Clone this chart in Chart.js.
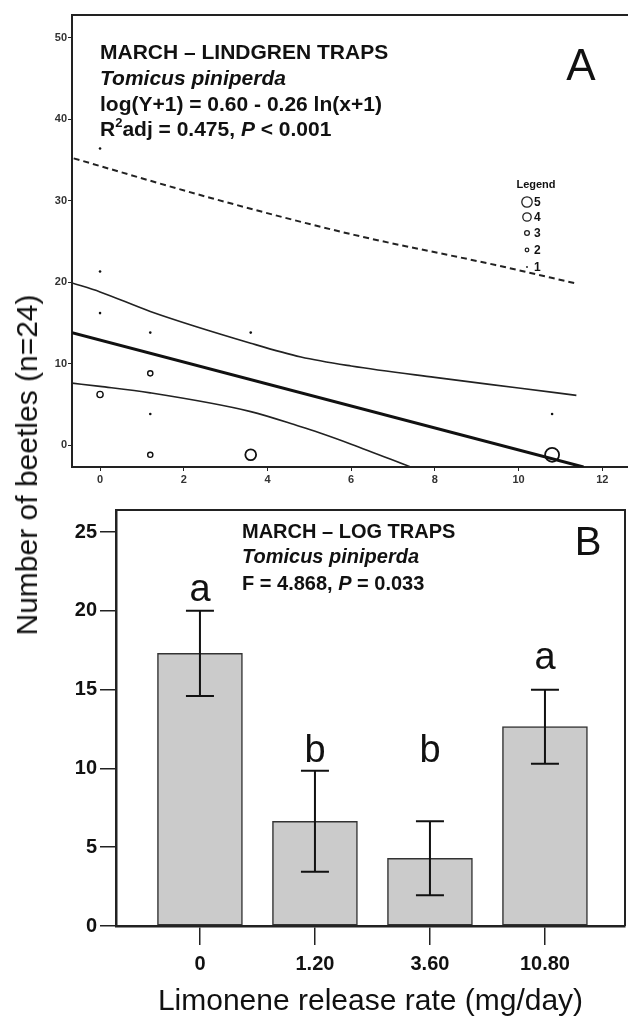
<!DOCTYPE html>
<html>
<head>
<meta charset="utf-8">
<title>Limonene release rate and Tomicus piniperda catches</title>
<script src="https://cdn.jsdelivr.net/npm/chart.js@4.4.1/dist/chart.umd.min.js"></script>
<style>
  html, body { margin: 0; padding: 0; background: #fff; overflow: hidden; }
  #wrapA { position: absolute; left: 0; top: 0; width: 640px; height: 495px; }
  #wrapB { position: absolute; left: 0; top: 495px; width: 628px; height: 522px; }
  #ytitle {
    position: absolute; left: 27px; top: 465px;
    transform: translate(-50%, -50%) rotate(-90deg);
    font: 30px "Liberation Sans", Arial, sans-serif; color: #111; white-space: nowrap;
  }
</style>
</head>
<body>
<div id="wrapA"><canvas id="chartA" width="640" height="495"></canvas></div>
<div id="wrapB"><canvas id="chartB" width="628" height="522"></canvas></div>
<div id="ytitle">Number of beetles (n=24)</div>
<script>
var FONT = '"Liberation Sans", Arial, Helvetica, sans-serif';

// ---- panel A : Lindgren traps (one entry per plotted symbol, count = traps at that point)
var trapRate    = [0, 0, 0, 0, 1.2, 1.2, 1.2, 1.2, 3.6, 3.6, 10.8, 10.8];
var trapBeetles = [36.4, 21.3, 16.2, 6.2, 13.8, 8.8, 3.8, -1.2, 13.8, -1.2, 3.8, -1.2];
var trapCount   = [1, 1, 1, 3, 1, 2, 1, 2, 1, 4, 1, 5];

// fitted line, 95% confidence band and prediction limit
var fitX   = [-0.67, 11.55];
var fitY   = [13.8, -2.7];
var upperX = [-0.67, 0, 1.2, 3.6, 4.8, 6, 8, 10, 11.38];
var upperY = [19.9, 18.8, 16.4, 12.5, 10.8, 9.7, 8.3, 7.0, 6.1];
var lowerX = [-0.67, 0, 1.2, 3.6, 4.76, 5.24, 6, 7.42];
var lowerY = [7.6, 7.2, 6.4, 4.1, 2.3, 1.5, 0.1, -2.7];
var predX  = [-0.63, 2.67, 6.07, 9.45, 11.4];
var predY  = [35.2, 30.3, 25.8, 22.1, 19.8];

var xTicksA = [0, 2, 4, 6, 8, 10, 12];
var yTicksA = [0, 10, 20, 30, 40, 50];
var legendCounts = [5, 4, 3, 2, 1];

// ---- panel B : log traps
var rateLabels  = ['0', '1.20', '3.60', '10.80'];
var meanBeetles = [17.3, 6.65, 4.3, 12.65];
var seBeetles   = [2.7, 3.2, 2.35, 2.35];
var sigLetters  = ['a', 'b', 'b', 'a'];
var yTicksB = [0, 5, 10, 15, 20, 25];

// symbol size for a count (pixels)
var radiusByCount = [0, 1.3, 2.6, 3.1, 5.4, 7];
var legendRadius  = [0, 0.9, 1.8, 2.4, 4.2, 5.2];

function xy(xs, ys) {
  return xs.map(function (x, i) { return { x: x, y: ys[i] }; });
}

function drawRuns(ctx, x, y, runs, size) {
  runs.forEach(function (r) {
    var s = r.sup ? Math.round(size * 0.62) : size;
    ctx.font = (r.i ? 'italic ' : '') + 'bold ' + s + 'px ' + FONT;
    ctx.fillText(r.t, x, r.sup ? y - size * 0.42 : y);
    x += ctx.measureText(r.t).width;
  });
}

var panelTextA = {
  id: 'panelTextA',
  afterDraw: function (chart) {
    var ctx = chart.ctx, a = chart.chartArea;
    ctx.save();
    // top frame line
    ctx.strokeStyle = '#222'; ctx.lineWidth = 2;
    ctx.beginPath(); ctx.moveTo(a.left, a.top); ctx.lineTo(a.right, a.top); ctx.stroke();

    ctx.fillStyle = '#111';
    ctx.textAlign = 'left'; ctx.textBaseline = 'alphabetic';
    drawRuns(ctx, 100, 59, [{ t: 'MARCH \u2013 LINDGREN TRAPS' }], 21);
    drawRuns(ctx, 100, 85, [{ t: 'Tomicus piniperda', i: true }], 21);
    drawRuns(ctx, 100, 111, [{ t: 'log(Y+1) = 0.60 - 0.26 ln(x+1)' }], 21);
    drawRuns(ctx, 100, 136, [{ t: 'R' }, { t: '2', sup: true }, { t: 'adj = 0.475, ' }, { t: 'P', i: true }, { t: ' < 0.001' }], 21);

    ctx.textAlign = 'center';
    ctx.font = '44px ' + FONT;
    ctx.fillText('A', 581, 80);

    // size legend
    ctx.font = 'bold 11px ' + FONT;
    ctx.fillText('Legend', 536, 188);
    var rows = [202, 217, 233, 250, 267];
    legendCounts.forEach(function (c, i) {
      var r = legendRadius[c];
      ctx.beginPath(); ctx.arc(527, rows[i], r, 0, Math.PI * 2);
      if (c <= 1) { ctx.fill(); } else { ctx.lineWidth = 1.3; ctx.stroke(); }
      ctx.textAlign = 'left'; ctx.textBaseline = 'middle';
      ctx.font = 'bold 12px ' + FONT;
      ctx.fillText(String(c), 534, rows[i] + 1);
    });
    ctx.restore();
  }
};

var chartA = new Chart(document.getElementById('chartA'), {
  type: 'scatter',
  data: {
    datasets: [
      {
        label: 'Traps',
        data: xy(trapRate, trapBeetles),
        pointRadius: trapCount.map(function (c) { return radiusByCount[c]; }),
        pointBackgroundColor: trapCount.map(function (c) { return c <= 1 ? '#111' : 'rgba(255,255,255,0)'; }),
        pointBorderColor: '#111',
        pointBorderWidth: trapCount.map(function (c) { return c <= 1 ? 0 : (c >= 4 ? 1.8 : 1.4); }),
        showLine: false
      },
      {
        label: 'Fit', data: xy(fitX, fitY), showLine: true, pointRadius: 0,
        borderColor: '#111', borderWidth: 3
      },
      {
        label: 'Upper 95% CI', data: xy(upperX, upperY), showLine: true, pointRadius: 0,
        borderColor: '#222', borderWidth: 1.6, cubicInterpolationMode: 'monotone'
      },
      {
        label: 'Lower 95% CI', data: xy(lowerX, lowerY), showLine: true, pointRadius: 0,
        borderColor: '#222', borderWidth: 1.6, cubicInterpolationMode: 'monotone'
      },
      {
        label: 'Prediction', data: xy(predX, predY), showLine: true, pointRadius: 0,
        borderColor: '#222', borderWidth: 2, borderDash: [6, 4], cubicInterpolationMode: 'monotone'
      }
    ]
  },
  options: {
    responsive: false,
    animation: false,
    layout: { padding: { top: 15, right: 8, left: 0, bottom: 0 } },
    plugins: { legend: { display: false }, tooltip: { enabled: false } },
    scales: {
      x: {
        type: 'linear', min: -0.67, max: 12.69,
        afterBuildTicks: function (s) { s.ticks = xTicksA.map(function (v) { return { value: v }; }); },
        afterFit: function (s) { s.height = 28; },
        grid: { drawOnChartArea: false, tickLength: 4, color: '#222', lineWidth: 1 },
        border: { color: '#222', width: 2 },
        ticks: { font: { family: FONT, size: 11, weight: 'bold' }, color: '#333', padding: 2, maxRotation: 0 }
      },
      y: {
        type: 'linear', min: -2.7, max: 52.8,
        afterBuildTicks: function (s) { s.ticks = yTicksA.map(function (v) { return { value: v }; }); },
        afterFit: function (s) { s.width = 72; },
        grid: { drawOnChartArea: false, tickLength: 4, color: '#222', lineWidth: 1 },
        border: { color: '#222', width: 2 },
        ticks: { font: { family: FONT, size: 11, weight: 'bold' }, color: '#333', padding: 1 }
      }
    }
  },
  plugins: [panelTextA]
});

var panelTextB = {
  id: 'panelTextB',
  afterDatasetsDraw: function (chart) {
    var ctx = chart.ctx, a = chart.chartArea;
    var xs = chart.scales.x, ys = chart.scales.y;
    ctx.save();
    // frame
    ctx.strokeStyle = '#222'; ctx.lineWidth = 2;
    ctx.beginPath();
    ctx.moveTo(a.left, a.top); ctx.lineTo(a.right, a.top); ctx.lineTo(a.right, a.bottom);
    ctx.stroke();

    // error bars
    ctx.strokeStyle = '#111'; ctx.lineWidth = 2;
    meanBeetles.forEach(function (m, i) {
      var x = xs.getPixelForValue(i);
      var t = ys.getPixelForValue(m + seBeetles[i]);
      var b = ys.getPixelForValue(m - seBeetles[i]);
      ctx.beginPath();
      ctx.moveTo(x, t); ctx.lineTo(x, b);
      ctx.moveTo(x - 14, t); ctx.lineTo(x + 14, t);
      ctx.moveTo(x - 14, b); ctx.lineTo(x + 14, b);
      ctx.stroke();
    });

    // significance letters
    var letterAt = [20.6, 10.4, 10.4, 16.3];
    ctx.fillStyle = '#111';
    ctx.textAlign = 'center'; ctx.textBaseline = 'alphabetic';
    ctx.font = '38px ' + FONT;
    sigLetters.forEach(function (l, i) {
      ctx.fillText(l, xs.getPixelForValue(i), ys.getPixelForValue(letterAt[i]));
    });

    ctx.textAlign = 'left';
    drawRuns(ctx, 242, 43, [{ t: 'MARCH \u2013 LOG TRAPS' }], 20);
    drawRuns(ctx, 242, 68, [{ t: 'Tomicus piniperda', i: true }], 20);
    drawRuns(ctx, 242, 95, [{ t: 'F = 4.868, ' }, { t: 'P', i: true }, { t: ' = 0.033' }], 20);

    ctx.textAlign = 'center';
    ctx.font = '40px ' + FONT;
    ctx.fillText('B', 588, 60);
    ctx.restore();
  }
};

var chartB = new Chart(document.getElementById('chartB'), {
  type: 'bar',
  data: {
    datasets: [{
      label: 'Log traps',
      data: xy(rateLabels.map(function (l, i) { return i; }), meanBeetles),
      backgroundColor: '#cbcbcb',
      borderColor: '#333',
      borderWidth: 1.5,
      borderSkipped: false,
      barThickness: 85
    }]
  },
  options: {
    responsive: false,
    animation: false,
    layout: { padding: { top: 10, right: 3, left: 0, bottom: 0 } },
    plugins: { legend: { display: false }, tooltip: { enabled: false } },
    scales: {
      x: {
        type: 'linear', min: -0.73, max: 3.696, offset: false,
        afterBuildTicks: function (s) { s.ticks = rateLabels.map(function (l, i) { return { value: i }; }); },
        afterFit: function (s) { s.height = 91; },
        grid: { drawOnChartArea: false, offset: false, tickLength: 19, color: '#222', lineWidth: 1.5 },
        border: { color: '#222', width: 2.5 },
        ticks: {
          font: { family: FONT, size: 20, weight: 'bold' }, color: '#111', padding: 7, maxRotation: 0,
          callback: function (v) { return rateLabels[v]; }
        },
        title: {
          display: true, text: 'Limonene release rate (mg/day)', color: '#111',
          font: { family: FONT, size: 30, lineHeight: 1 }, padding: { top: 0, bottom: 0 }
        }
      },
      y: {
        type: 'linear', min: 0, max: 26.4,
        afterBuildTicks: function (s) { s.ticks = yTicksB.map(function (v) { return { value: v }; }); },
        afterFit: function (s) { s.width = 116; },
        grid: { drawOnChartArea: false, tickLength: 16, color: '#222', lineWidth: 1.5 },
        border: { color: '#222', width: 2.5 },
        ticks: { font: { family: FONT, size: 20, weight: 'bold' }, color: '#111', padding: 3 }
      }
    }
  },
  plugins: [panelTextB]
});
</script>
</body>
</html>
